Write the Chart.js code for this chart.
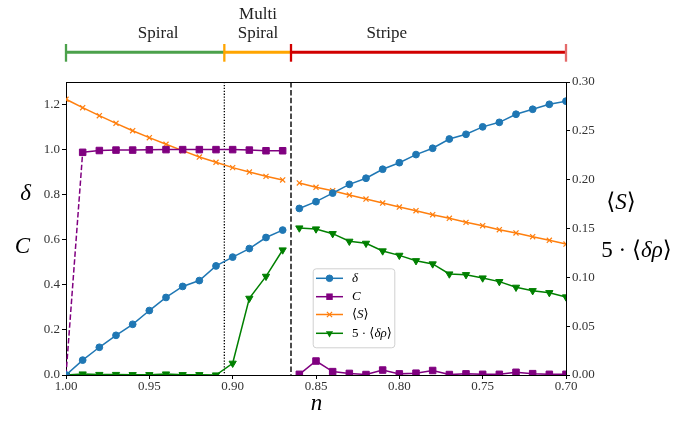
<!DOCTYPE html>
<html><head><meta charset="utf-8">
<script src="https://cdn.jsdelivr.net/npm/chart.js@4/dist/chart.umd.min.js"></script>
<style>html,body{margin:0;padding:0;background:#fff;}canvas{display:block;}</style>
</head><body>
<canvas id="c" width="700" height="422"></canvas>
<script>
// ---- data ----
const nLeft  = [1.00,0.99,0.98,0.97,0.96,0.95,0.94,0.93,0.92,0.91,0.90,0.89,0.88,0.87];
const nRight = [0.86,0.85,0.84,0.83,0.82,0.81,0.80,0.79,0.78,0.77,0.76,0.75,0.74,0.73,0.72,0.71,0.70];

const deltaLeft  = [0.000,0.066,0.123,0.176,0.225,0.286,0.344,0.393,0.419,0.484,0.523,0.561,0.610,0.643];
const deltaRight = [0.739,0.769,0.807,0.846,0.873,0.913,0.942,0.978,1.006,1.047,1.068,1.101,1.121,1.157,1.179,1.201,1.215];

const cLeft  = [0.000,0.988,0.996,0.998,0.998,0.999,1.000,1.000,1.000,1.000,1.000,0.998,0.995,0.995];
const cRight = [0.003,0.062,0.015,0.007,0.002,0.022,0.005,0.008,0.020,0.002,0.005,0.003,0.003,0.012,0.006,0.003,0.003];

const sLeft  = [0.2823,0.2737,0.2655,0.2577,0.2501,0.2430,0.2362,0.2297,0.2232,0.2178,0.2123,0.2078,0.2034,0.1997];
const sRight = [0.1966,0.1922,0.1887,0.1843,0.1802,0.1761,0.1720,0.1682,0.1641,0.1604,0.1563,0.1529,0.1488,0.1454,0.1416,0.1379,0.1341];

const rhoLeft  = [0.0000,0.0010,0.0005,0.0005,0.0003,0.0003,0.0010,0.0003,0.0003,0.0000,0.0120,0.0785,0.1010,0.1280];
const rhoRight = [0.1505,0.1495,0.1447,0.1369,0.1348,0.1270,0.1225,0.1170,0.1137,0.1034,0.1027,0.0993,0.0956,0.0898,0.0863,0.0843,0.0799];

const xTicks      = [1.00,0.95,0.90,0.85,0.80,0.75,0.70];
const yLeftTicks  = [0.0,0.2,0.4,0.6,0.8,1.0,1.2];
const yRightTicks = [0.00,0.05,0.10,0.15,0.20,0.25,0.30];

const dottedLineN = 0.905;
const dashedLineN = 0.865;

const phaseBounds = [1.00,0.905,0.865,0.70];
const phaseColors = ['#4ba14b','#ffa500','#d10000'];
const phaseEndColor = '#e46a6a';
const phaseLabels = [['Spiral'],['Multi','Spiral'],['Stripe']];
const phaseLabelN = [0.9447,0.8848,0.8075];

// ---- styles ----
const SERIF = "'Liberation Serif','DejaVu Serif',serif";
const BLUE='#1f77b4', PURPLE='#800080', ORANGE='#ff7f0e', GREEN='#008000';

function pts(xs, ys){ return xs.map((x,i)=>({x:x,y:ys[i]})); }

function ds(data, color, style, radius, axis, extra){
  return Object.assign({
    data:data, yAxisID:axis, borderColor:color, backgroundColor:color,
    pointBackgroundColor:color, pointBorderColor:color, borderWidth:1.5,
    pointStyle:style, pointRadius:radius, pointBorderWidth:1, tension:0, fill:false
  }, extra||{});
}

const datasets = [
  ds(pts(nLeft,deltaLeft), BLUE,'circle',3.4,'y'),
  ds(pts(nRight,deltaRight), BLUE,'circle',3.4,'y'),
  ds(pts(nLeft.slice(0,2),cLeft.slice(0,2)), PURPLE,'rect',0,'y',{borderDash:[5.5,2.4]}),
  ds(pts(nLeft.slice(1),cLeft.slice(1)), PURPLE,'rect',4.6,'y'),
  ds(pts(nRight,cRight), PURPLE,'rect',4.6,'y'),
  ds(pts(nLeft,sLeft), ORANGE,'crossRot',3.6,'y2',{pointBorderWidth:1.2}),
  ds(pts(nRight,sRight), ORANGE,'crossRot',3.6,'y2',{pointBorderWidth:1.2}),
  ds(pts(nLeft,rhoLeft), GREEN,'triangle',4.2,'y2',{pointRotation:180}),
  ds(pts(nRight,rhoRight), GREEN,'triangle',4.2,'y2',{pointRotation:180})
];

function runs(ctx, parts, x, y, align){
  let w=0; parts.forEach(p=>{ctx.font=p[1]; w+=ctx.measureText(p[0]).width;});
  let cx = align==='center' ? x-w/2 : x;
  ctx.textAlign='left';
  parts.forEach(p=>{ctx.font=p[1]; ctx.fillText(p[0],cx,y); cx+=ctx.measureText(p[0]).width;});
}

function marker(ctx, style, x, y, color){
  ctx.save(); ctx.fillStyle=color; ctx.strokeStyle=color; ctx.lineWidth=1; ctx.setLineDash([]);
  ctx.beginPath();
  if(style==='circle'){ ctx.arc(x,y,3.3,0,Math.PI*2); ctx.fill(); ctx.stroke(); }
  else if(style==='rect'){ ctx.rect(x-3.25,y-3.25,6.5,6.5); ctx.fill(); }
  else if(style==='x'){ ctx.lineWidth=1.2; const s=2.6; ctx.moveTo(x-s,y-s); ctx.lineTo(x+s,y+s); ctx.moveTo(x+s,y-s); ctx.lineTo(x-s,y+s); ctx.stroke(); }
  else if(style==='tri'){ ctx.moveTo(x-3.6,y-2.1); ctx.lineTo(x+3.6,y-2.1); ctx.lineTo(x,y+4.2); ctx.closePath(); ctx.fill(); }
  ctx.restore();
}

const deco = {
  id:'deco',
  beforeDatasetsDraw(chart){
    const ctx=chart.ctx, a=chart.chartArea, xs=chart.scales.x;
    ctx.save(); ctx.strokeStyle='#000';
    ctx.lineWidth=1.3; ctx.setLineDash([1.3,1.6]);
    let px=xs.getPixelForValue(dottedLineN);
    ctx.beginPath(); ctx.moveTo(px,a.top); ctx.lineTo(px,a.bottom); ctx.stroke();
    ctx.lineWidth=1.4; ctx.setLineDash([5.5,2.4]);
    px=xs.getPixelForValue(dashedLineN);
    ctx.beginPath(); ctx.moveTo(px,a.top); ctx.lineTo(px,a.bottom); ctx.stroke();
    ctx.restore();
  },
  afterDraw(chart){
    const ctx=chart.ctx, a=chart.chartArea, xs=chart.scales.x;
    ctx.save();
    // top spine
    ctx.strokeStyle='#000'; ctx.lineWidth=1;
    ctx.beginPath(); ctx.moveTo(a.left,a.top+0.5); ctx.lineTo(a.right,a.top+0.5); ctx.stroke();

    // phase bar
    const barY=52.3;
    for(let i=0;i<phaseColors.length;i++){
      const x0=xs.getPixelForValue(phaseBounds[i]), x1=xs.getPixelForValue(phaseBounds[i+1]);
      ctx.strokeStyle=phaseColors[i]; ctx.lineWidth=3;
      ctx.beginPath(); ctx.moveTo(x0,barY); ctx.lineTo(x1,barY); ctx.stroke();
    }
    for(let i=0;i<phaseBounds.length;i++){
      const x=xs.getPixelForValue(phaseBounds[i]);
      ctx.strokeStyle = i<phaseColors.length ? phaseColors[i] : phaseEndColor;
      ctx.lineWidth=2.3;
      ctx.beginPath(); ctx.moveTo(x,44); ctx.lineTo(x,61.7); ctx.stroke();
    }
    ctx.fillStyle='#222'; ctx.textBaseline='alphabetic'; ctx.textAlign='center';
    ctx.font='17px '+SERIF;
    phaseLabels.forEach((lines,i)=>{
      const x=xs.getPixelForValue(phaseLabelN[i]);
      if(lines.length===1){ ctx.fillText(lines[0],x,37.5); }
      else { ctx.fillText(lines[0],x,18.5); ctx.fillText(lines[1],x,37.5); }
    });

    // axis labels
    ctx.fillStyle='#000'; ctx.textBaseline='middle';
    const IT='italic 23px '+SERIF, RM='23px '+SERIF;
    runs(ctx,[['n',IT]],316.5,404,'center');
    runs(ctx,[['δ',IT]],25.5,194,'center');
    runs(ctx,[['C',IT]],22.5,247,'center');
    runs(ctx,[['⟨',RM],['S',IT],['⟩',RM]],621,202.5,'center');
    runs(ctx,[['5 · ⟨',RM],['δρ',IT],['⟩',RM]],636.5,251,'center');

    // legend
    const L={x:312.7,y:268.3,w:81.6,h:79};
    ctx.save();
    ctx.fillStyle='rgba(255,255,255,0.85)'; ctx.strokeStyle='#d0d0d0'; ctx.lineWidth=1;
    ctx.beginPath(); ctx.roundRect(L.x+0.5,L.y+0.5,L.w,L.h,3); ctx.fill(); ctx.stroke();
    ctx.restore();
    const items=[
      {c:BLUE,m:'circle',t:[['δ','italic 13px '+SERIF]]},
      {c:PURPLE,m:'rect',t:[['C','italic 13px '+SERIF]]},
      {c:ORANGE,m:'x',t:[['⟨','13px '+SERIF],['S','italic 13px '+SERIF],['⟩','13px '+SERIF]]},
      {c:GREEN,m:'tri',t:[['5 · ⟨','13px '+SERIF],['δρ','italic 13px '+SERIF],['⟩','13px '+SERIF]]}
    ];
    const ys=[278.3,296.7,314.5,333.3];
    items.forEach((it,i)=>{
      const y=ys[i];
      ctx.strokeStyle=it.c; ctx.lineWidth=1.5; ctx.setLineDash([]);
      ctx.beginPath(); ctx.moveTo(316,y); ctx.lineTo(343,y); ctx.stroke();
      marker(ctx,it.m,329.5,y,it.c);
      ctx.fillStyle='#000'; ctx.textBaseline='middle';
      runs(ctx,it.t,352,y,'left');
    });
    ctx.restore();
  }
};

const tickFont={family:SERIF,size:13};
new Chart(document.getElementById('c'),{
  type:'line',
  data:{datasets:datasets},
  options:{
    responsive:false, animation:false, devicePixelRatio:1,
    layout:{padding:{top:82,left:0,right:0,bottom:0}},
    plugins:{legend:{display:false},tooltip:{enabled:false}},
    elements:{line:{borderCapStyle:'butt'}},
    scales:{
      x:{type:'linear',reverse:true,min:0.70,max:1.00,
        afterBuildTicks:s=>{s.ticks=xTicks.map(v=>({value:v}));},
        afterFit:s=>{s.height=47;},
        ticks:{callback:v=>Number(v).toFixed(2),font:tickFont,color:'#333',maxRotation:0,autoSkip:false,padding:0},
        grid:{drawOnChartArea:false,drawTicks:true,tickLength:4,tickColor:'#000',tickWidth:1},
        border:{display:true,color:'#000',width:1}},
      y:{type:'linear',position:'left',min:0,max:1.3,
        afterBuildTicks:s=>{s.ticks=yLeftTicks.map(v=>({value:v}));},
        afterFit:s=>{s.width=66;},
        ticks:{callback:v=>Number(v).toFixed(1),font:tickFont,color:'#333',padding:2},
        grid:{drawOnChartArea:false,drawTicks:true,tickLength:4,tickColor:'#000',tickWidth:1},
        border:{display:true,color:'#000',width:1}},
      y2:{type:'linear',position:'right',min:0,max:0.30,
        afterBuildTicks:s=>{s.ticks=yRightTicks.map(v=>({value:v}));},
        afterFit:s=>{s.width=134;},
        ticks:{callback:v=>Number(v).toFixed(2),font:tickFont,color:'#333',padding:2},
        grid:{drawOnChartArea:false,drawTicks:true,tickLength:4,tickColor:'#000',tickWidth:1},
        border:{display:true,color:'#000',width:1}}
    }
  },
  plugins:[deco]
});
</script>
</body></html>
